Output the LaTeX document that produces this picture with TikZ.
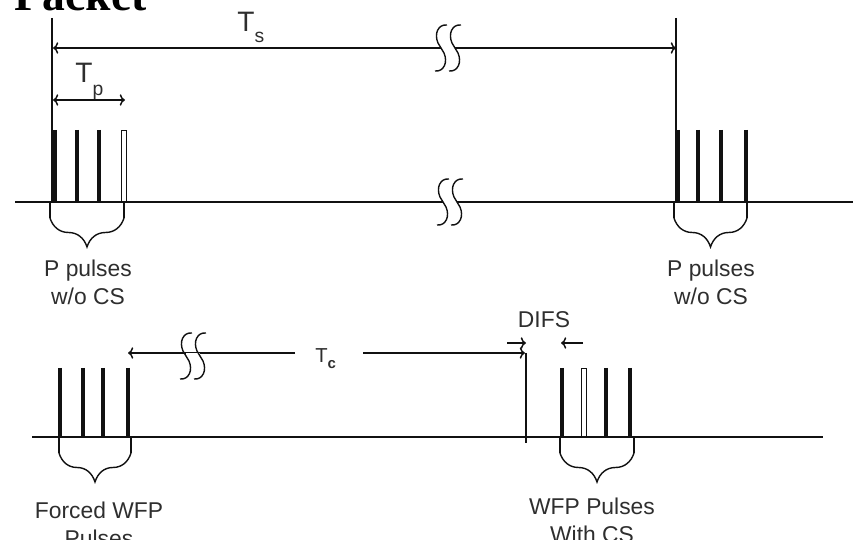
\documentclass[tikz,border=0pt]{standalone}
\usepackage{fontspec}
\setmainfont{Liberation Sans}
\newfontfamily\titlefont{Liberation Serif}
\usepackage{xcolor}
\usetikzlibrary{arrows.meta,decorations.pathreplacing}
\definecolor{ink}{HTML}{111111}
\definecolor{txt}{HTML}{2E2E2E}
\tikzset{
  timeline/.style={line width=1.2pt, color=ink},
  guideline/.style={line width=0.8pt, color=ink},
  pulsebar/.style={line width=2.2pt, color=ink},
  hollowbar/.style={line width=0.55pt, color=ink},
  dimarrow/.style={
    line width=0.85pt, color=ink, -{To[length=3pt,width=6.5pt]}
  },
  dimboth/.style={
    line width=0.85pt, color=ink,
    {To[length=3pt,width=6.5pt]}-{To[length=3pt,width=6.5pt]}
  },
  breakmark/.style={line width=0.8pt, color=ink},
  breakgap/.style={line width=3pt, color=white},
  groupbrace/.style={
    decorate, decoration={brace, mirror, amplitude=16.5pt}, line width=0.8pt, color=ink
  },
  grouplabel/.style={
    font=\fontsize{13}{15.5}\selectfont, text=txt, align=center,
    inner sep=0pt, anchor=north
  },
  timelabel/.style={
    text=txt, inner sep=0pt, anchor=base west
  },
}

\begin{document}
\begin{tikzpicture}[x=0.02cm, y=-0.02cm]
\useasboundingbox (0,0) rectangle (856,540);

% ── title, cut by the page edge ──
\node[anchor=base east, inner sep=0pt, font=\titlefont\bfseries\fontsize{26}{26}\selectfont] (title) at (147,11) {Packet};

% ── top time line ──
\coordinate (topL) at (15,202);
\coordinate (topR) at (853,202);
\draw[timeline] (topL) -- (topR);

% frame markers
\coordinate (frameA) at (52,18);
\coordinate (frameB) at (676,18);
\draw[guideline] (frameA) -- (frameA |- topL);
\draw[guideline] (frameB) -- (frameB |- topL);

% pulses w/o CS
\foreach \px in {55,77,99}
  \draw[pulsebar] (\px,130) -- (\px,202);
\draw[hollowbar] (121,130) rectangle (126,202);
\foreach \px in {678,698,721,746}
  \draw[pulsebar] (\px,130) -- (\px,202);

% braces under the groups
\draw[guideline] (50,202) -- (50,218) (124,202) -- (124,218);
\draw[groupbrace] (50,218) -- (124,218);
\draw[guideline] (674,202) -- (674,218) (747,202) -- (747,218);
\draw[groupbrace] (674,218) -- (747,218);

\node[grouplabel] (grpA) at (88,260) {P pulses\\w/o CS};
\node[grouplabel] (grpB) at (711,260) {P pulses\\w/o CS};

% Ts and Tp
\coordinate (tsL) at (53,48);
\coordinate (tsR) at (676,48);
\draw[dimboth] (tsL) -- (tsR);
\node[timelabel, font=\fontsize{16}{16}\selectfont] (tsLabel) at (237,32)
  {T\raisebox{-6pt}{\fontsize{11}{11}\selectfont s}};

\coordinate (tpL) at (53,100);
\coordinate (tpR) at (125,100);
\draw[dimboth] (tpL) -- (tpR);
\node[timelabel, font=\fontsize{16}{16}\selectfont] (tpLabel) at (75,83)
  {T\raisebox{-7pt}{\fontsize{11}{11}\selectfont p}};

% ── bottom time line ──
\coordinate (botL) at (32,437);
\coordinate (botR) at (823,437);
\draw[timeline] (botL) -- (botR);

% forced WFP pulses
\foreach \px in {60,83,103,128}
  \draw[pulsebar] (\px,368) -- (\px,437);
% WFP pulses with CS
\foreach \px in {562,606,630}
  \draw[pulsebar] (\px,368) -- (\px,437);
\draw[hollowbar] (581.5,368) rectangle (586.5,437);

\draw[guideline] (59,437) -- (59,453) (131,437) -- (131,453);
\draw[groupbrace] (59,453) -- (131,453);
\draw[guideline] (560,437) -- (560,453) (634,437) -- (634,453);
\draw[groupbrace] (560,453) -- (634,453);

\node[grouplabel] (grpC) at (99,502) {Forced WFP\\Pulses};
\node[grouplabel] (grpD) at (592,498) {WFP Pulses\\With CS};

% Tc
\coordinate (tcL) at (128,353);
\coordinate (tcGapL) at (295,353);
\coordinate (tcGapR) at (363,353);
\coordinate (tcR) at (525,353);
\draw[dimarrow] (tcGapL) -- (tcL);
\draw[dimarrow] (tcGapR) -- (tcR);
\node[timelabel, font=\fontsize{11.5}{11.5}\selectfont] (tcLabel) at (315,363)
  {T\raisebox{-3pt}{\fontsize{8.5}{8.5}\selectfont\bfseries c}};

% DIFS
\coordinate (difsTop) at (526,353);
\coordinate (difsFoot) at (526,443);
\draw[guideline] (difsTop) -- (difsFoot);
\coordinate (difsA) at (507,343);
\coordinate (difsAtip) at (526,343);
\coordinate (difsB) at (583,343);
\coordinate (difsBtip) at (561,343);
\draw[dimarrow] (difsA) -- (difsAtip);
\draw[dimarrow] (difsB) -- (difsBtip);
\node[text=txt, inner sep=0pt, font=\fontsize{13}{13}\selectfont] (difsLabel) at (544,320) {DIFS};

% ── break marks ──
\foreach \ga/\gb/\gy in {441/455/48, 443/457/202, 186/200/356}
  \draw[breakgap] (\ga,\gy) -- (\gb,\gy);
\foreach \bx/\by in {441/48, 455/48, 443/202, 457/202, 186/356, 200/356}
  \draw[breakmark] ({\bx+6},{\by-23}) .. controls ({\bx-3},{\by-24}) and ({\bx-7},{\by-14}) .. ({\bx-3},{\by-5})
    -- ({\bx+3},{\by+5}) .. controls ({\bx+7},{\by+14}) and ({\bx+3},{\by+24}) .. ({\bx-6},{\by+23});

\end{tikzpicture}
\end{document}
